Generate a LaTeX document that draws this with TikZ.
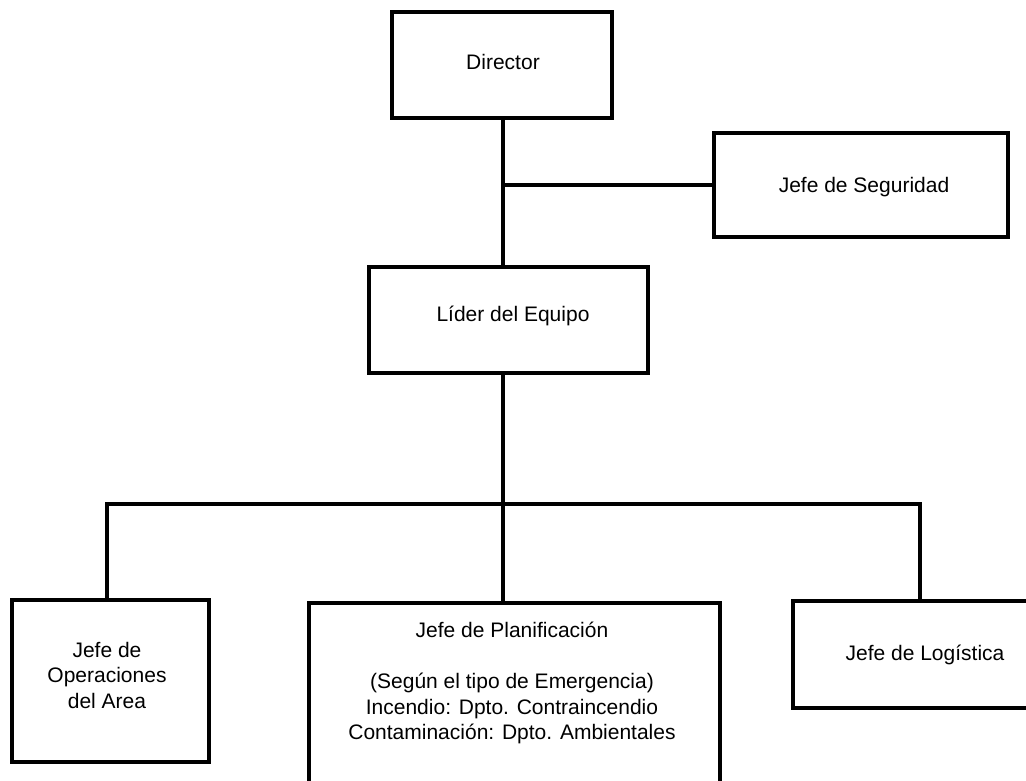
\documentclass[tikz,border=0pt]{standalone}
\usepackage{fontspec}
\setmainfont{Liberation Sans}
\begin{document}
\begin{tikzpicture}[x=1pt,y=-1pt,
  box/.style={draw=black, line width=3.6pt, fill=white, inner sep=0pt, align=center},
  conn/.style={draw=black, line width=3.4pt},
  lbl/.style={inner sep=0pt, align=center, font=\fontsize{21}{25.5}\selectfont}]
\useasboundingbox (0,0) rectangle (1026,780);
\clip (0,0) rectangle (1026,780);
% boxes
\node[box, minimum width=220pt, minimum height=106pt] (dir) at (502,65) {};
\node[lbl] (dirt) at (503,62) {Director};
\node[box, minimum width=294pt, minimum height=104pt] (seg) at (861,185) {};
\node[lbl] (segt) at (864,187) {Jefe de Seguridad};
\node[box, minimum width=279pt, minimum height=106pt] (lider) at (508.5,320) {};
\node[lbl] (lidert) at (513,316) {Líder del Equipo};
\node[box, minimum width=197pt, minimum height=162pt] (ops) at (110.5,681) {};
\node[lbl] (opst) at (107,675) {Jefe de\\Operaciones\\del Area};
\node[box, minimum width=411pt, minimum height=220pt, anchor=north] (plan) at (514.5,601) {};
\node[lbl] (plant) at (512,683) {Jefe de Planificación\\[25.5pt](Según el tipo de Emergencia)\\Incendio: Dpto. Contraincendio\\Contaminación: Dpto. Ambientales};
\node[box, minimum width=264pt, minimum height=107pt] (log) at (925,654.5) {};
\node[lbl] (logt) at (925,655) {Jefe de Logística};
% connectors
\coordinate (trunk) at (503,0);
\coordinate (j1) at (trunk |- seg.west);
\coordinate (bus) at (503,504);
\coordinate (bL) at (107,504);
\coordinate (bR) at (920,504);
\draw[conn] (trunk |- dir.south) -- (trunk |- lider.north);
\draw[conn] (j1) -- (seg.west);
\draw[conn] (trunk |- lider.south) -- (bus);
\draw[conn] (bL |- ops.north) -- (bL) -- (bR) -- (bR |- log.north);
\draw[conn] (bus) -- (bus |- plan.north);
\end{tikzpicture}
\end{document}
